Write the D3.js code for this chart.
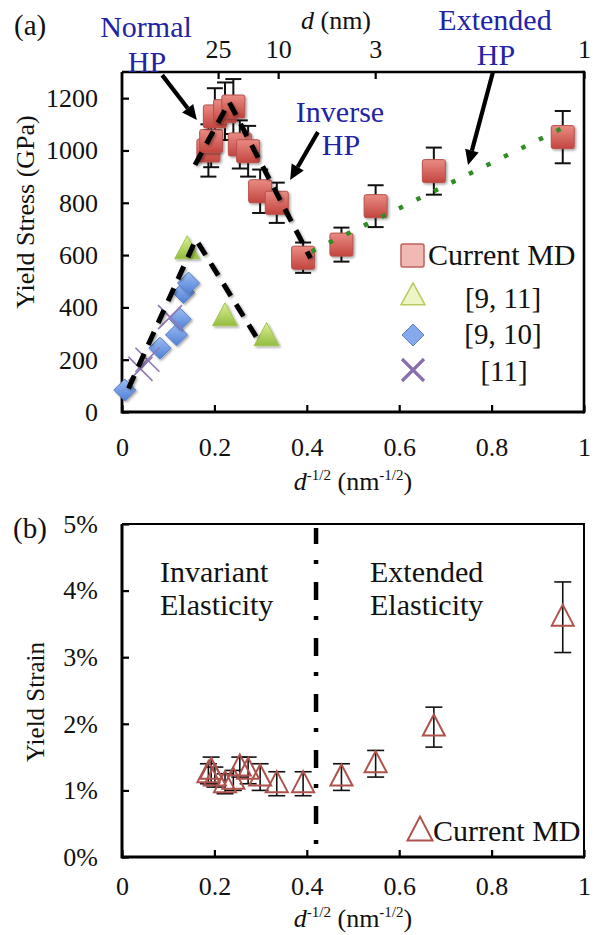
<!DOCTYPE html>
<html><head><meta charset="utf-8">
<script src="https://cdn.jsdelivr.net/npm/d3@7"></script>
<style>
html,body{margin:0;padding:0;background:#fff;}
svg{display:block;}
svg text{font-family:"Liberation Serif","Times New Roman",Times,"DejaVu Serif",serif !important;}
</style></head>
<body><svg id="c" width="596" height="935"></svg>
<script>
// ---------- data ----------
const sizeX = [0.187, 0.193, 0.201, 0.223, 0.241, 0.255, 0.273, 0.299, 0.335, 0.392, 0.475, 0.549, 0.675, 0.954];
const stressMD = [1000, 1036, 1130, 1150, 1168, 1023, 997, 844, 800, 590, 640, 787, 921, 1051];
const stressErr = [100, 100, 108, 110, 105, 92, 97, 83, 77, 58, 65, 80, 90, 100];
const ref911X = [0.141, 0.223, 0.313];
const ref911Y = [621, 365, 289];
const ref910X = [0.006, 0.082, 0.118, 0.126, 0.133, 0.144];
const ref910Y = [84, 244, 295, 355, 457, 493];
const ref11X = [0.040, 0.055, 0.104];
const ref11Y = [165, 200, 363];
const lowFitX = [0.014, 0.160, 0.298];
const lowFitY = [90, 660, 266];
const mdFitX = [0.158, 0.232, 0.408];
const mdFitY = [945, 1185, 588];
const extFitX = [0.410, 0.970];
const extFitY = [614, 1100];
const strainMD = [1.25, 1.3, 1.2, 1.1, 1.15, 1.35, 1.3, 1.2, 1.1, 1.1, 1.2, 1.4, 1.95, 3.6];
const strainErr = [0.15, 0.2, 0.15, 0.15, 0.15, 0.15, 0.2, 0.2, 0.18, 0.18, 0.2, 0.2, 0.3, 0.53];
const xTicks = [0, 0.2, 0.4, 0.6, 0.8, 1];
const stressTicks = [0, 200, 400, 600, 800, 1000, 1200];
const strainTicks = [0, 1, 2, 3, 4, 5];
const topTickPos = [0.208, 0.338, 0.548, 1.0];
const topTickLabels = ["25", "10", "3", "1"];
const dividerX = 0.42;

// ---------- setup ----------
const svg = d3.select("#c");
const defs = svg.append("defs");
function grad(id, c1, c2){
  const g = defs.append("linearGradient").attr("id", id).attr("x1",0).attr("y1",0).attr("x2",0).attr("y2",1);
  g.append("stop").attr("offset","0%").attr("stop-color",c1);
  g.append("stop").attr("offset","100%").attr("stop-color",c2);
}
grad("gSq", "#e98c84", "#c3453f");
grad("gTri", "#dcef95", "#94bd3f");
grad("gDia", "#9bbdf2", "#4f7fd6");
const flt = defs.append("filter").attr("id","sh").attr("x","-30%").attr("y","-30%").attr("width","160%").attr("height","160%");
flt.append("feDropShadow").attr("dx",1.5).attr("dy",1.5).attr("stdDeviation",1.2).attr("flood-color","#000").attr("flood-opacity",0.35);

const x = d3.scaleLinear().domain([0,1]).range([122,584]);
const yT = d3.scaleLinear().domain([0,1300]).range([412,72]);
const yB = d3.scaleLinear().domain([0,5]).range([857,524]);
const FS = 26;

function styleAxis(g){
  g.attr("font-family",null);
  g.selectAll(".domain").remove();
  g.selectAll(".tick line").attr("stroke","#000").attr("stroke-width",2.2);
  g.selectAll(".tick text").attr("font-size",FS).attr("fill","#111");
}

// ================= TOP PANEL =================
const gTop = svg.append("g");
gTop.append("g").attr("transform","translate(0,412)")
  .call(d3.axisBottom(x).tickValues(xTicks).tickFormat(d3.format("")).tickSize(-7).tickSizeOuter(0).tickPadding(26))
  .call(styleAxis);
gTop.append("g").attr("transform","translate(122,0)")
  .call(d3.axisLeft(yT).tickValues(stressTicks).tickFormat(d3.format("d")).tickSize(-7).tickSizeOuter(0).tickPadding(24))
  .call(styleAxis);
gTop.append("g").attr("transform","translate(0,72)")
  .call(d3.axisTop(x).tickValues(topTickPos).tickFormat((d,i)=>topTickLabels[i]).tickSize(-7).tickSizeOuter(0).tickPadding(14))
  .call(styleAxis);
gTop.append("line").attr("x1",x(0)).attr("x2",x(1)).attr("y1",yT(0)).attr("y2",yT(0)).attr("stroke","#000").attr("stroke-width",2.8);
gTop.append("line").attr("x1",x(0)).attr("x2",x(0)).attr("y1",yT(0)+1.4).attr("y2",yT(1300)).attr("stroke","#000").attr("stroke-width",2.8);
gTop.append("line").attr("x1",x(0)).attr("x2",x(1)).attr("y1",yT(1300)).attr("y2",yT(1300)).attr("stroke","#000").attr("stroke-width",2.6);
gTop.append("line").attr("x1",x(1)).attr("x2",x(1)).attr("y1",yT(0)+1.4).attr("y2",yT(1300)-1.3).attr("stroke","#000").attr("stroke-width",2.6);

const triPath = (w,h)=>`M0,${-h*0.6}L${w/2},${h*0.4}L${-w/2},${h*0.4}Z`;
gTop.append("g").selectAll("path").data(ref911X).join("path")
  .attr("d", triPath(25,23))
  .attr("transform",(d,i)=>`translate(${x(d)},${yT(ref911Y[i])})`)
  .attr("fill","url(#gTri)").attr("stroke","#a3c552").attr("stroke-width",1).attr("filter","url(#sh)");
gTop.append("g").selectAll("path").data(ref910X).join("path")
  .attr("d","M0,-11L11,0L0,11L-11,0Z")
  .attr("transform",(d,i)=>`translate(${x(d)},${yT(ref910Y[i])})`)
  .attr("fill","url(#gDia)").attr("stroke","#5b80c8").attr("stroke-width",1).attr("filter","url(#sh)");
gTop.append("g").selectAll("path").data(ref11X).join("path")
  .attr("d","M-12,-12L12,12M-12,12L12,-12")
  .attr("transform",(d,i)=>`translate(${x(d)},${yT(ref11Y[i])})`)
  .attr("fill","none").attr("stroke","#8f78b4").attr("stroke-width",1.6);
const lineT = d3.line().x(d=>x(d[0])).y(d=>yT(d[1]));
gTop.append("path").datum(lowFitX.map((v,i)=>[v,lowFitY[i]]))
  .attr("d",lineT).attr("fill","none").attr("stroke","#000").attr("stroke-width",5)
  .attr("stroke-dasharray","14,10").attr("filter","url(#sh)");

const eb = gTop.append("g").attr("stroke","#111").attr("stroke-width",2);
sizeX.forEach((v,i)=>{
  const cx = x(v), y1 = yT(stressMD[i]-stressErr[i]), y2 = yT(stressMD[i]+stressErr[i]);
  eb.append("line").attr("x1",cx).attr("x2",cx).attr("y1",y1).attr("y2",y2);
  eb.append("line").attr("x1",cx-8).attr("x2",cx+8).attr("y1",y1).attr("y2",y1);
  eb.append("line").attr("x1",cx-8).attr("x2",cx+8).attr("y1",y2).attr("y2",y2);
});
gTop.append("g").selectAll("rect").data(sizeX).join("rect")
  .attr("x",d=>x(d)-11.5).attr("y",(d,i)=>yT(stressMD[i])-11.5).attr("width",23).attr("height",23).attr("rx",2)
  .attr("fill","url(#gSq)").attr("stroke","#b5524c").attr("stroke-width",1).attr("filter","url(#sh)");
gTop.append("path").datum(mdFitX.map((v,i)=>[v,mdFitY[i]]))
  .attr("d",lineT).attr("fill","none").attr("stroke","#000").attr("stroke-width",5)
  .attr("stroke-dasharray","14,10").attr("filter","url(#sh)");
gTop.append("path").datum(extFitX.map((v,i)=>[v,extFitY[i]]))
  .attr("d",lineT).attr("fill","none").attr("stroke","#2f8d23").attr("stroke-width",4.5)
  .attr("stroke-dasharray","4.5,15");

const arrows = [
  {x1:0.087,y1:1288,x2:0.162,y2:1116},
  {x1:0.424,y1:1070,x2:0.364,y2:887},
  {x1:0.803,y1:1300,x2:0.749,y2:944}
];
arrows.forEach(a=>{
  const X1=x(a.x1),Y1=yT(a.y1),X2=x(a.x2),Y2=yT(a.y2);
  const ang=Math.atan2(Y2-Y1,X2-X1), L=15, W=7;
  const bx=X2-L*Math.cos(ang), by=Y2-L*Math.sin(ang);
  gTop.append("line").attr("x1",X1).attr("y1",Y1).attr("x2",bx).attr("y2",by).attr("stroke","#000").attr("stroke-width",4.2);
  gTop.append("path").attr("d",`M${X2},${Y2}L${bx+W*Math.sin(ang)},${by-W*Math.cos(ang)}L${bx-W*Math.sin(ang)},${by+W*Math.cos(ang)}Z`).attr("fill","#000");
});

const blue = "#2323a6";
function txt(g,t,xx,yy,opt={}){
  return g.append("text").attr("x",xx).attr("y",yy).attr("font-size",opt.fs||30)
    .attr("fill",opt.fill||"#111").attr("text-anchor",opt.anchor||"start").attr("font-style",opt.italic?"italic":null).text(t);
}
txt(gTop,"(a)",14,35,{fs:29});
txt(gTop,"Normal",146,37,{fill:blue,anchor:"middle"});
txt(gTop,"HP",147,72,{fill:blue,anchor:"middle"});
txt(gTop,"Extended",495,30,{fill:blue,anchor:"middle"});
txt(gTop,"HP",496,65,{fill:blue,anchor:"middle"});
txt(gTop,"Inverse",340,122,{fill:blue,anchor:"middle"});
txt(gTop,"HP",341,155,{fill:blue,anchor:"middle"});
const dnm = gTop.append("text").attr("x",336).attr("y",29).attr("font-size",26).attr("text-anchor","middle").attr("fill","#111");
dnm.append("tspan").attr("font-style","italic").text("d");
dnm.append("tspan").text(" (nm)");

function xTitle(g,cx,by){
  const t = g.append("text").attr("x",cx).attr("y",by).attr("font-size",26).attr("text-anchor","middle").attr("fill","#111");
  t.append("tspan").attr("font-style","italic").text("d");
  t.append("tspan").attr("font-size",15).attr("dy",-10).text("-1/2");
  t.append("tspan").attr("dy",10).text(" (nm");
  t.append("tspan").attr("font-size",15).attr("dy",-10).text("-1/2");
  t.append("tspan").attr("dy",10).text(")");
}
xTitle(gTop,353,490);
gTop.append("text").attr("transform","translate(34,212) rotate(-90)").attr("text-anchor","middle")
  .attr("font-size",26).attr("fill","#111").text("Yield Stress (GPa)");

const lg = gTop.append("g");
lg.append("rect").attr("x",401).attr("y",244).attr("width",23).attr("height",23).attr("rx",2)
  .attr("fill","#f1b9b4").attr("stroke","#c0625c").attr("stroke-width",1.5);
txt(lg,"Current MD",428,265,{fs:30});
lg.append("path").attr("d",triPath(24,22)).attr("transform","translate(413,296)")
  .attr("fill","#eef5c4").attr("stroke","#b6cc62").attr("stroke-width",1.5);
txt(lg,"[9, 11]",503,308,{fs:29,anchor:"middle"});
lg.append("path").attr("d","M0,-11L11,0L0,11L-11,0Z").attr("transform","translate(413,335)")
  .attr("fill","#86a9ec").attr("stroke","#5c7fc6").attr("stroke-width",1);
txt(lg,"[9, 10]",503,344,{fs:29,anchor:"middle"});
lg.append("path").attr("d","M-11,-11L11,11M-11,11L11,-11").attr("transform","translate(413,370)")
  .attr("stroke","#8a6fae").attr("stroke-width",3.2);
txt(lg,"[11]",504,381,{fs:29,anchor:"middle"});

// ================= BOTTOM PANEL =================
const gBot = svg.append("g");
gBot.append("g").attr("transform","translate(0,857)")
  .call(d3.axisBottom(x).tickValues(xTicks).tickFormat(d3.format("")).tickSize(-7).tickSizeOuter(0).tickPadding(20))
  .call(styleAxis);
gBot.append("g").attr("transform","translate(122,0)")
  .call(d3.axisLeft(yB).tickValues(strainTicks).tickFormat(d=>d+"%").tickSize(-7).tickSizeOuter(0).tickPadding(24))
  .call(styleAxis);
gBot.append("line").attr("x1",x(0)).attr("x2",x(1)).attr("y1",yB(0)).attr("y2",yB(0)).attr("stroke","#000").attr("stroke-width",3);
gBot.append("line").attr("x1",x(0)).attr("x2",x(0)).attr("y1",yB(0)+1.5).attr("y2",yB(5)).attr("stroke","#000").attr("stroke-width",3);
gBot.append("line").attr("x1",x(0)).attr("x2",x(1)).attr("y1",yB(5)).attr("y2",yB(5)).attr("stroke","#000").attr("stroke-width",2);
gBot.append("line").attr("x1",x(1)).attr("x2",x(1)).attr("y1",yB(0)+1.5).attr("y2",yB(5)-1).attr("stroke","#000").attr("stroke-width",2);

gBot.append("line").attr("x1",x(dividerX)).attr("x2",x(dividerX)).attr("y1",528).attr("y2",848)
  .attr("stroke","#000").attr("stroke-width",4.5).attr("stroke-dasharray","4,18,18,16").attr("stroke-dashoffset",24);

const eb2 = gBot.append("g").attr("stroke","#111").attr("stroke-width",1.6);
sizeX.forEach((v,i)=>{
  const cx = x(v), y1 = yB(strainMD[i]-strainErr[i]), y2 = yB(strainMD[i]+strainErr[i]);
  eb2.append("line").attr("x1",cx).attr("x2",cx).attr("y1",y1).attr("y2",y2);
  eb2.append("line").attr("x1",cx-8.5).attr("x2",cx+8.5).attr("y1",y1).attr("y2",y1);
  eb2.append("line").attr("x1",cx-8.5).attr("x2",cx+8.5).attr("y1",y2).attr("y2",y2);
});
gBot.append("g").selectAll("path").data(sizeX).join("path")
  .attr("d",triPath(22,21))
  .attr("transform",(d,i)=>`translate(${x(d)},${yB(strainMD[i])})`)
  .attr("fill","none").attr("stroke","#ad524c").attr("stroke-width",2);

txt(gBot,"(b)",13,538,{fs:29});
txt(gBot,"Invariant",160,582,{fs:30});
txt(gBot,"Elasticity",160,615,{fs:30});
txt(gBot,"Extended",370,582,{fs:30});
txt(gBot,"Elasticity",370,615,{fs:30});
xTitle(gBot,353,927);
gBot.append("text").attr("transform","translate(44,702) rotate(-90)").attr("text-anchor","middle")
  .attr("font-size",25).attr("fill","#111").text("Yield Strain");
gBot.append("path").attr("d",triPath(25,24)).attr("transform","translate(420,831)")
  .attr("fill","none").attr("stroke","#b0524c").attr("stroke-width",2);
txt(gBot,"Current MD",433,841,{fs:30});
</script></body></html>
